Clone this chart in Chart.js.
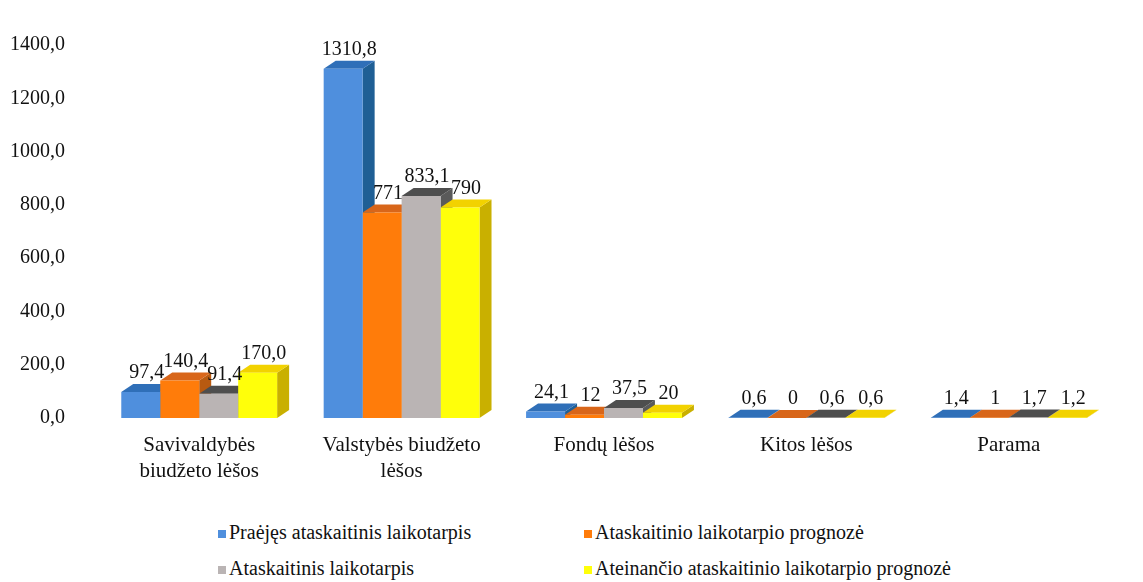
<!DOCTYPE html>
<html>
<head>
<meta charset="utf-8">
<script src="https://cdn.jsdelivr.net/npm/chart.js@4.4.1/dist/chart.umd.min.js"></script>
<style>
  html, body { margin:0; padding:0; background:#fff; }
  #wrap { position:relative; width:1143px; height:582px; }
  #chart-box { position:absolute; left:0; top:0; width:1143px; height:490px; }
  .lg { position:absolute; font-family:'Liberation Serif', Tinos, 'Noto Serif', 'DejaVu Serif', FreeSerif, 'Times New Roman', serif; font-size:20px; color:#111; white-space:nowrap; line-height:20px; }
  .lg i { display:inline-block; width:8px; height:8px; margin-right:3px; vertical-align:1px; }
</style>
</head>
<body>
<div id="wrap">
  <div id="chart-box"><canvas id="chart-lesos"></canvas></div>
  <div id="legend"></div>
</div>
<script>
/* ---------- duomenys ---------- */
const kategorijos = [['Savivaldybės', 'biudžeto lėšos'], ['Valstybės biudžeto', 'lėšos'], 'Fondų lėšos', 'Kitos lėšos', 'Parama'];
const serijos = ['Praėjęs ataskaitinis laikotarpis', 'Ataskaitinio laikotarpio prognozė', 'Ataskaitinis laikotarpis', 'Ateinančio ataskaitinio laikotarpio prognozė'];

const praejes    = [97.4, 1310.8, 24.1, 0.6, 1.4];
const prognoze   = [140.4, 771, 12, 0, 1];
const ataskaitinis = [91.4, 833.1, 37.5, 0.6, 1.7];
const ateinantis = [170.0, 790, 20, 0.6, 1.2];

// etiketės taip, kaip parašyta paveiksle
const praejesTxt    = ['97,4', '1310,8', '24,1', '0,6', '1,4'];
const prognozeTxt   = ['140,4', '771', '12', '0', '1'];
const ataskaitinisTxt = ['91,4', '833,1', '37,5', '0,6', '1,7'];
const ateinantisTxt = ['170,0', '790', '20', '0,6', '1,2'];

const yTicks = [0, 200, 400, 600, 800, 1000, 1200, 1400];

/* ---------- spalvos ---------- */
const SERIF = "'Liberation Serif', Tinos, 'Noto Serif', 'DejaVu Serif', FreeSerif, 'Times New Roman', serif";
const frontColors = ['#4f8fdd', '#ff7c0a', '#bab4b4', '#ffff0a'];
const sideColors  = ['#1f5f95', '#b85a10', '#5a5a5a', '#c9b000'];
const topColors   = ['#2f6fb8', '#d8661a', '#4e4e4e', '#f2d200'];
const DX = 12, DY = 8;

const allData = [praejes, prognoze, ataskaitinis, ateinantis];
const allTxt  = [praejesTxt, prognozeTxt, ataskaitinisTxt, ateinantisTxt];

// 3D sienelės: piešiamos prieš priekines sienas
const bars3d = {
  id: 'bars3d',
  beforeDatasetsDraw(chart) {
    const ctx = chart.ctx;
    const n = kategorijos.length;
    ctx.save();
    for (let j = 0; j < n; j++) {
      chart.data.datasets.forEach((ds, i) => {
        const b = chart.getDatasetMeta(i).data[j];
        const l = b.x - b.width / 2, r = b.x + b.width / 2;
        // šonas
        ctx.fillStyle = sideColors[i];
        ctx.beginPath();
        ctx.moveTo(r, b.y); ctx.lineTo(r + DX, b.y - DY);
        ctx.lineTo(r + DX, b.base - DY); ctx.lineTo(r, b.base);
        ctx.closePath(); ctx.fill();
        // viršus
        ctx.fillStyle = topColors[i];
        ctx.beginPath();
        ctx.moveTo(l, b.y); ctx.lineTo(l + DX, b.y - DY);
        ctx.lineTo(r + DX, b.y - DY); ctx.lineTo(r, b.y);
        ctx.closePath(); ctx.fill();
      });
    }
    ctx.restore();
  },
  afterDatasetsDraw(chart) {
    const ctx = chart.ctx;
    ctx.save();
    ctx.font = '20px ' + SERIF;
    ctx.fillStyle = '#111';
    ctx.textAlign = 'center';
    ctx.textBaseline = 'bottom';
    chart.data.datasets.forEach((ds, i) => {
      chart.getDatasetMeta(i).data.forEach((b, j) => {
        ctx.fillText(allTxt[i][j], b.x + DX / 2, b.y - DY - 1);
      });
    });
    ctx.restore();
  }
};

new Chart(document.getElementById('chart-lesos'), {
  type: 'bar',
  data: {
    labels: kategorijos,
    datasets: serijos.map((s, i) => ({
      label: s, data: allData[i], backgroundColor: frontColors[i], borderWidth: 0,
      categoryPercentage: 0.77, barPercentage: 1
    }))
  },
  options: {
    responsive: true, maintainAspectRatio: false, animation: false,
    layout: { padding: { top: 23, right: 33, left: 0, bottom: 0 } },
    plugins: { legend: { display: false }, tooltip: { enabled: false } },
    scales: {
      x: {
        grid: { display: false, drawTicks: false }, border: { display: false },
        ticks: { color: '#111', padding: 14, maxRotation: 0, font: { family: SERIF, size: 21, lineHeight: 1.25 } },
        afterFit: s => { s.height = 72; }
      },
      y: {
        min: 0, max: 1400,
        grid: { display: false, drawTicks: false }, border: { display: false },
        afterBuildTicks: s => { s.ticks = yTicks.map(v => ({ value: v })); },
        ticks: { color: '#111', padding: 33, font: { family: SERIF, size: 20 },
                 callback: v => v.toFixed(1).replace('.', ',') },
        afterFit: s => { s.width = 98; }
      }
    }
  },
  plugins: [bars3d]
});

/* ---------- legenda ---------- */
const lgPos = [[218, 522], [584, 522], [218, 558], [584, 558]];
document.getElementById('legend').innerHTML = serijos.map((s, i) =>
  `<div class="lg" style="left:${lgPos[i][0]}px;top:${lgPos[i][1]}px"><i style="background:${frontColors[i]}"></i>${s}</div>`
).join('');
</script>
</body>
</html>
